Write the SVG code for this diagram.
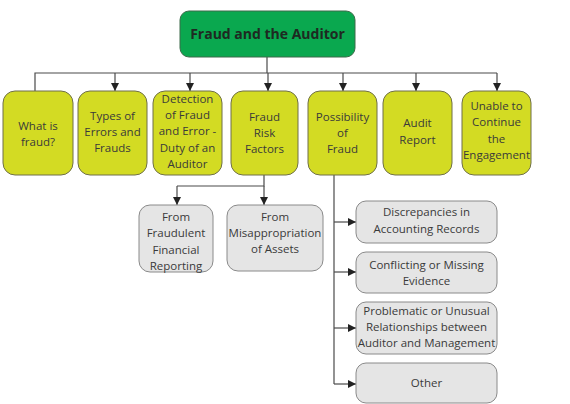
<svg xmlns="http://www.w3.org/2000/svg" width="570" height="404" viewBox="0 0 570 404">
<defs>
<style>
.t{font-family:"Open Sans","Noto Sans",sans-serif;font-size:11.5px;fill:#3a3a3a;text-anchor:middle}
.title{font-family:"Open Sans","Noto Sans",sans-serif;font-size:14px;font-weight:bold;fill:#1e2a22;text-anchor:middle}
.y{fill:#d3db23;stroke:#6f6f4a;stroke-width:1}
.g{fill:#e5e5e5;stroke:#8a8a8a;stroke-width:1}
.c{fill:none;stroke:#4a4a4a;stroke-width:1.2}
</style>
<marker id="a" markerWidth="8" markerHeight="8" refX="8" refY="4" orient="auto" markerUnits="userSpaceOnUse">
<path d="M0,0 L8,4 L0,8 z" fill="#222"/>
</marker>
</defs>
<rect width="570" height="404" fill="#fff"/>
<g id="connectors">
<path class="c" d="M267,57 V73"/>
<path class="c" d="M35,91 V73 H497"/>
<path class="c" d="M115,73 V91" marker-end="url(#a)"/>
<path class="c" d="M190,73 V91" marker-end="url(#a)"/>
<path class="c" d="M268,73 V91" marker-end="url(#a)"/>
<path class="c" d="M343,73 V91" marker-end="url(#a)"/>
<path class="c" d="M416,73 V91" marker-end="url(#a)"/>
<path class="c" d="M497,73 V91" marker-end="url(#a)"/>
<path class="c" d="M264,175 V186 H177"/>
<path class="c" d="M177,186 V205" marker-end="url(#a)"/>
<path class="c" d="M264,186 V205" marker-end="url(#a)"/>
<path class="c" d="M334,175 V384"/>
<path class="c" d="M334,222 H356" marker-end="url(#a)"/>
<path class="c" d="M334,272 H356" marker-end="url(#a)"/>
<path class="c" d="M334,328 H356" marker-end="url(#a)"/>
<path class="c" d="M334,384 H356" marker-end="url(#a)"/>
</g>
<g id="title">
<rect x="180" y="11" width="175" height="46" rx="9" fill="#0aa84f" stroke="#3d6b4a" stroke-width="1"/>
<text class="title" x="267.5" y="39">Fraud and the Auditor</text>
</g>
<g id="n1">
<rect class="y" x="3" y="91" width="70" height="84" rx="12"/>
<text class="t"><tspan x="38" y="130">What is</tspan><tspan x="38" y="146">fraud?</tspan></text>
</g>
<g id="n2">
<rect class="y" x="78" y="91" width="69" height="84" rx="12"/>
<text class="t"><tspan x="112.5" y="120">Types of</tspan><tspan x="112.5" y="136">Errors and</tspan><tspan x="112.5" y="152">Frauds</tspan></text>
</g>
<g id="n3">
<rect class="y" x="153" y="91" width="69" height="84" rx="12"/>
<text class="t"><tspan x="187.5" y="103">Detection</tspan><tspan x="187.5" y="119">of Fraud</tspan><tspan x="187.5" y="135">and Error -</tspan><tspan x="187.5" y="152">Duty of an</tspan><tspan x="187.5" y="168">Auditor</tspan></text>
</g>
<g id="n4">
<rect class="y" x="231" y="91" width="67" height="84" rx="12"/>
<text class="t"><tspan x="264.5" y="121">Fraud</tspan><tspan x="264.5" y="137">Risk</tspan><tspan x="264.5" y="153">Factors</tspan></text>
</g>
<g id="n5">
<rect class="y" x="308" y="91" width="69" height="84" rx="12"/>
<text class="t"><tspan x="342.5" y="121">Possibility</tspan><tspan x="342.5" y="137">of</tspan><tspan x="342.5" y="153">Fraud</tspan></text>
</g>
<g id="n6">
<rect class="y" x="383" y="91" width="69" height="84" rx="12"/>
<text class="t"><tspan x="417.5" y="127">Audit</tspan><tspan x="417.5" y="144">Report</tspan></text>
</g>
<g id="n7">
<rect class="y" x="462" y="91" width="69" height="84" rx="12"/>
<text class="t"><tspan x="496.5" y="110">Unable to</tspan><tspan x="496.5" y="126">Continue</tspan><tspan x="496.5" y="143">the</tspan><tspan x="496.5" y="159">Engagement</tspan></text>
</g>
<g id="n8">
<rect class="g" x="139" y="205" width="74" height="67" rx="11"/>
<text class="t"><tspan x="176" y="221">From</tspan><tspan x="176" y="237">Fraudulent</tspan><tspan x="176" y="254">Financial</tspan><tspan x="176" y="270">Reporting</tspan></text>
</g>
<g id="n9">
<rect class="g" x="227" y="205" width="96" height="66" rx="11"/>
<text class="t"><tspan x="275" y="221">From</tspan><tspan x="275" y="237">Misappropriation</tspan><tspan x="275" y="253">of Assets</tspan></text>
</g>
<g id="n10">
<rect class="g" x="356" y="201" width="141" height="42" rx="10"/>
<text class="t"><tspan x="426.5" y="216">Discrepancies in</tspan><tspan x="426.5" y="233">Accounting Records</tspan></text>
</g>
<g id="n11">
<rect class="g" x="356" y="252" width="141" height="41" rx="10"/>
<text class="t"><tspan x="426.5" y="269">Conflicting or Missing</tspan><tspan x="426.5" y="285">Evidence</tspan></text>
</g>
<g id="n12">
<rect class="g" x="356" y="302" width="141" height="52" rx="10"/>
<text class="t"><tspan x="426.5" y="315">Problematic or Unusual</tspan><tspan x="426.5" y="331">Relationships between</tspan><tspan x="426.5" y="347">Auditor and Management</tspan></text>
</g>
<g id="n13">
<rect class="g" x="356" y="363" width="141" height="40" rx="10"/>
<text class="t" x="426.5" y="387">Other</text>
</g>
</svg>
